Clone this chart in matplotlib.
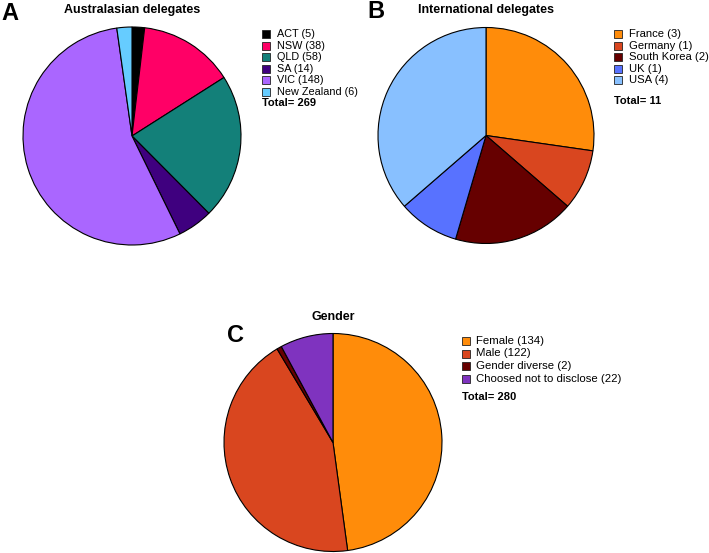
import matplotlib
matplotlib.use("Agg")
import matplotlib.pyplot as plt
from matplotlib.patches import Rectangle

plt.rcParams['font.family'] = ['Liberation Sans', 'DejaVu Sans']

# panel A - Australasian delegates
aus_names = ['ACT', 'NSW', 'QLD', 'SA', 'VIC', 'New Zealand']
aus_counts = [5, 38, 58, 14, 148, 6]
aus_colors = ['#000000', '#FF0066', '#138079', '#3F007F', '#AA66FF', '#66CCFF']

# panel B - International delegates
int_names = ['France', 'Germany', 'South Korea', 'UK', 'USA']
int_counts = [3, 1, 2, 1, 4]
int_colors = ['#FF8C0A', '#D9461F', '#660000', '#5872FF', '#88C0FF']

# panel C - Gender
gen_names = ['Female', 'Male', 'Gender diverse', 'Choosed not to disclose']
gen_counts = [134, 122, 2, 22]
gen_colors = ['#FF8C0A', '#D9461F', '#660000', '#7F33BF']

W, H = 709, 553
fig = plt.figure(figsize=(W / 100, H / 100), dpi=100)


def fx(x):
    return x / W


def fy(y):
    return 1 - y / H


def draw_panel(letter, letter_xy, title, cx, cy, r, names, counts, colors,
               leg_x, leg_rows, total_y, leg_fs):
    ax = fig.add_axes([fx(cx - r), fy(cy + r), 2 * r / W, 2 * r / H])
    ax.pie(counts, colors=colors, startangle=90, counterclock=False,
           wedgeprops=dict(edgecolor='black', linewidth=0.8))
    ax.set_xlim(-1, 1)
    ax.set_ylim(-1, 1)
    ax.set_aspect('equal')
    ax.axis('off')

    fig.text(fx(letter_xy[0]), fy(letter_xy[1]), letter, fontsize=17,
             fontweight='bold', ha='center', va='center')
    fig.text(fx(cx), fy(title[1]), title[0], fontsize=9, fontweight='bold',
             ha='center', va='center')

    # legend drawn by hand so the row spacing follows the original
    for i, (name, n, c) in enumerate(zip(names, counts, colors)):
        y = leg_rows[0] + i * leg_rows[1]
        fig.add_artist(Rectangle((fx(leg_x), fy(y + 4)), 8 / W, 8 / H,
                                 transform=fig.transFigure, facecolor=c,
                                 edgecolor='#222222', linewidth=0.6))
        fig.text(fx(leg_x + 15), fy(y), f'{name} ({n})', fontsize=leg_fs,
                 ha='left', va='center')
    fig.text(fx(leg_x), fy(total_y), f'Total= {sum(counts)}', fontsize=8,
             fontweight='bold', ha='left', va='center')


draw_panel('A', (10, 14), ('Australasian delegates', 10), 132, 136, 109,
           aus_names, aus_counts, aus_colors, 262, (34, 11.55), 103.5, 7.8)
draw_panel('B', (376, 11), ('International delegates', 10), 486, 135.5, 108,
           int_names, int_counts, int_colors, 614, (34.3, 11.45), 100.5, 8.1)
draw_panel('C', (236, 335), ('Gender', 317), 333, 442.5, 109,
           gen_names, gen_counts, gen_colors, 461.5, (340.7, 12.8), 397.5, 8.2)

fig.savefig('out.png', dpi=100, facecolor='white')
